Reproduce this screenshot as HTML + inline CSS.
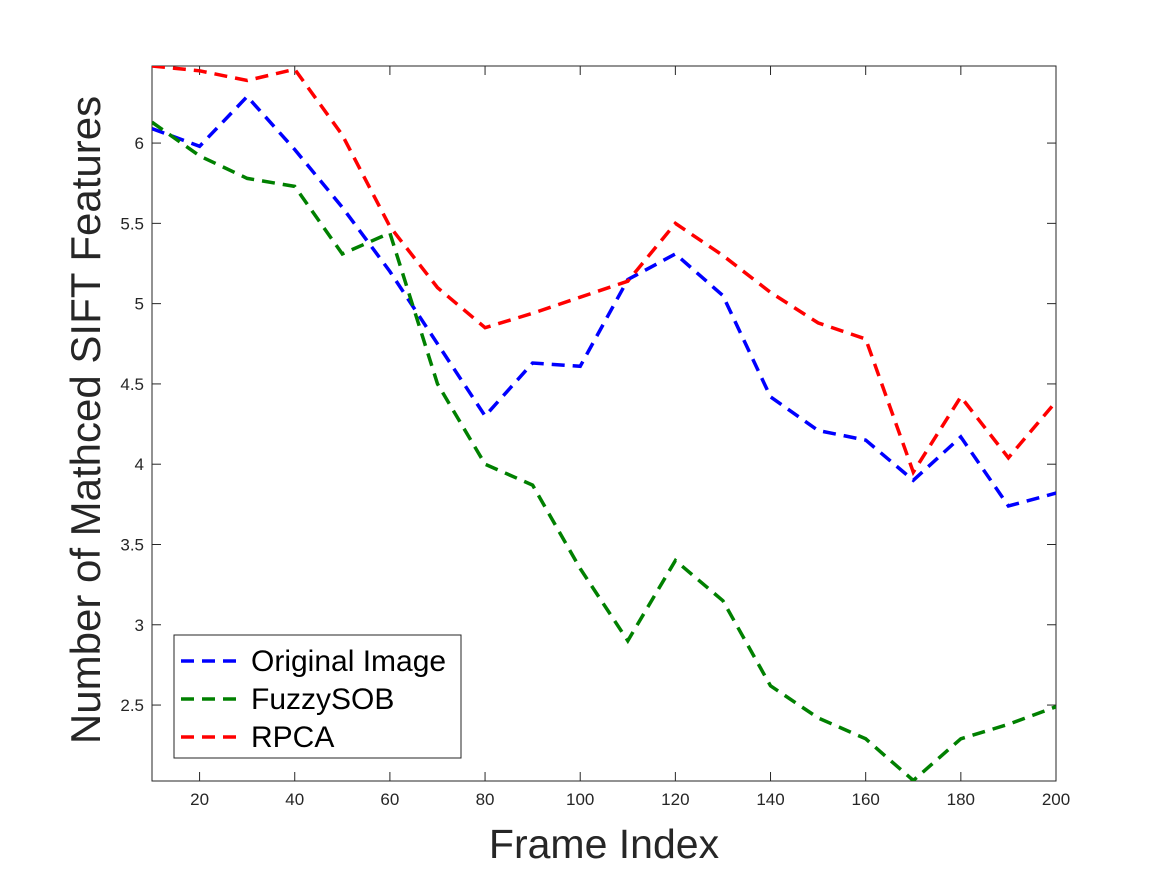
<!DOCTYPE html>
<html><head><meta charset="utf-8"><style>
html,body{margin:0;padding:0;background:#fff;}
svg{display:block;font-family:"Liberation Sans",sans-serif;}
</style></head><body>
<svg id="chart" width="1167" height="875" viewBox="0 0 1167 875" xmlns="http://www.w3.org/2000/svg">
<rect width="1167" height="875" fill="#fff"/>
<g id="plot"></g>
</svg>
<script>
const xValues=[10,20,30,40,50,60,70,80,90,100,110,120,130,140,150,160,170,180,190,200];
const originalValues=[6.09,5.98,6.29,5.96,5.6,5.2,4.75,4.3,4.63,4.61,5.15,5.31,5.05,4.42,4.21,4.15,3.9,4.17,3.74,3.82];
const fuzzyValues=[6.13,5.92,5.78,5.73,5.31,5.44,4.5,4.0,3.87,3.35,2.9,3.4,3.15,2.62,2.42,2.29,2.03,2.29,2.38,2.49];
const rpcaValues=[6.48,6.45,6.39,6.46,6.05,5.48,5.1,4.85,4.94,5.04,5.14,5.5,5.3,5.07,4.88,4.78,3.95,4.42,4.04,4.39];
const xTicks=[20,40,60,80,100,120,140,160,180,200];
const yTicks=[2.5,3,3.5,4,4.5,5,5.5,6];
const yTickLabels=["2.5","3","3.5","4","4.5","5","5.5","6"];
const seriesNames=["Original Image","FuzzySOB","RPCA"];
const seriesColors=["#0000ff","#008000","#ff0000"];

const L=152,R=1056,T=66,B=781,xMin=10,xMax=200,yMin=2.027,yMax=6.48;
const sx=v=>L+(v-xMin)/(xMax-xMin)*(R-L);
const sy=v=>B-(v-yMin)/(yMax-yMin)*(B-T);
const NS="http://www.w3.org/2000/svg";
const g=document.getElementById('plot');
function mk(tag,attrs,parent){const e=document.createElementNS(NS,tag);for(const k in attrs)e.setAttribute(k,attrs[k]);(parent||g).appendChild(e);return e;}

const clip=mk('clipPath',{id:'clip'});
mk('rect',{x:L,y:T,width:R-L,height:B-T},clip);

const frame=mk('rect',{x:L,y:T,width:R-L,height:B-T,fill:'#fff',stroke:'#262626','stroke-width':1});



xTicks.forEach(v=>{
  const x=sx(v);
  mk('line',{x1:x,y1:B,x2:x,y2:B-9,stroke:'#262626'});
  mk('line',{x1:x,y1:T,x2:x,y2:T+9,stroke:'#262626'});
  const t=mk('text',{x:x,y:B+24,'text-anchor':'middle','font-size':17,fill:'#262626'});
  t.textContent=v;
  
  
});
yTicks.forEach((v,i)=>{
  const y=sy(v);
  mk('line',{x1:L,y1:y,x2:L+9,y2:y,stroke:'#262626'});
  mk('line',{x1:R,y1:y,x2:R-9,y2:y,stroke:'#262626'});
  const t=mk('text',{x:L-8,y:y+6,'text-anchor':'end','font-size':17,fill:'#262626'});
  t.textContent=yTickLabels[i];
  
  
});

const allSeries=[originalValues,fuzzyValues,rpcaValues];
const seriesKeys=['original-image-line','fuzzysob-line','rpca-line'];
allSeries.forEach((vals,i)=>{
  const d=vals.map((v,j)=>(j?'L':'M')+sx(xValues[j]).toFixed(1)+' '+sy(v).toFixed(1)).join(' ');
  const p=mk('path',{d:d,fill:'none',stroke:seriesColors[i],'stroke-width':3.5,'stroke-dasharray':'13 8','clip-path':'url(#clip)'});
  
  
});

const xl=mk('text',{x:604,y:858,'text-anchor':'middle','font-size':41,fill:'#262626'});
xl.textContent='Frame Index';


const yl=mk('text',{x:0,y:0,'text-anchor':'middle','font-size':42,fill:'#262626',transform:'translate(100,420) rotate(-90)'});
yl.textContent='Number of Mathced SIFT Features';



const leg=mk('g',{});


mk('rect',{x:174,y:635,width:287,height:123,fill:'#fff',stroke:'#262626','stroke-width':1},leg);
seriesNames.forEach((n,i)=>{
  const y=661+i*38;
  const entry=mk('g',{},leg);
  
  
  mk('line',{x1:181,y1:y,x2:238,y2:y,stroke:seriesColors[i],'stroke-width':3.5,'stroke-dasharray':'13 8'},entry);
  const t=mk('text',{x:251,y:y+10,'font-size':30,fill:'#000'},entry);
  t.textContent=n;
});
</script>
</body></html>
